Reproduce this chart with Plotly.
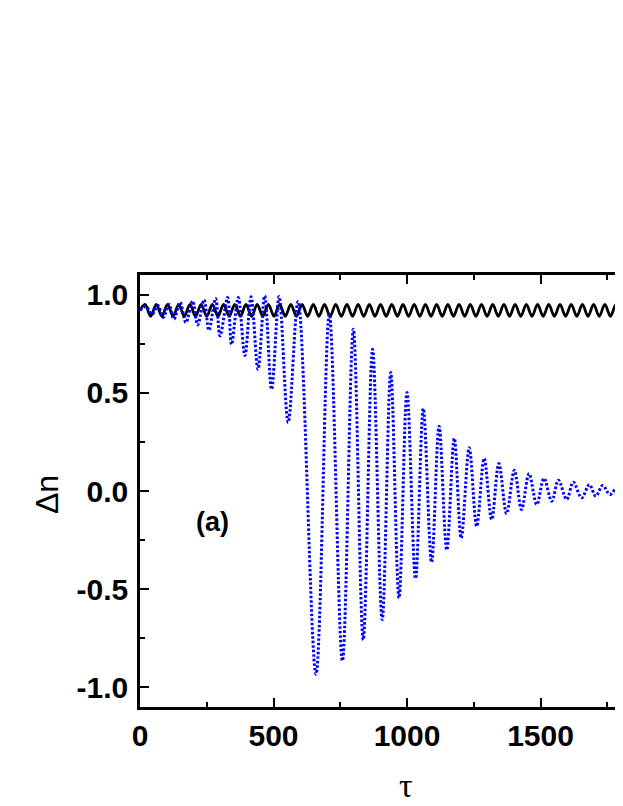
import plotly.graph_objects as go

# ---- data ----
blue_tau = [0, 22, 45, 67, 87, 109, 127, 150, 172, 197, 216, 240, 258, 283, 300,
            328, 343, 368, 393, 416, 442, 467, 493, 521, 555, 592, 659, 709, 758,
            799, 836, 871, 907, 939, 970, 1000, 1032, 1061, 1092, 1120, 1149, 1177,
            1203, 1233, 1261, 1289, 1317, 1344, 1373, 1402, 1429, 1457, 1486, 1513,
            1542, 1567, 1598, 1623, 1654, 1683, 1707, 1733, 1760, 1789, 1809]
blue_dn = [0.92, 0.94, 0.90, 0.945, 0.884, 0.95, 0.875, 0.96, 0.858, 0.967, 0.846,
           0.974, 0.819, 0.98, 0.79, 0.985, 0.747, 0.985, 0.69, 0.989, 0.62, 0.994,
           0.518, 0.99, 0.35, 0.965, -0.933, 0.90, -0.865, 0.824, -0.758, 0.722,
           -0.656, 0.603, -0.545, 0.502, -0.446, 0.42, -0.363, 0.33, -0.30, 0.268,
           -0.24, 0.22, -0.18, 0.166, -0.145, 0.14, -0.115, 0.106, -0.094, 0.088,
           -0.069, 0.064, -0.052, 0.055, -0.043, 0.045, -0.035, 0.032, -0.026,
           0.028, -0.018, 0.021, 0.0]

black_tau = [0, 19, 40, 61, 82, 103, 124, 145, 166, 187, 208, 229, 250, 271, 292,
             313, 334, 355, 376, 397, 418, 439, 460, 481, 502, 523, 544, 565, 586,
             607, 628, 649, 670, 691, 712, 733, 754, 775, 796, 817, 838, 859, 880,
             901, 922, 943, 964, 985, 1006, 1027, 1048, 1069, 1090, 1111, 1132,
             1153, 1174, 1195, 1216, 1237, 1258, 1279, 1300, 1321, 1342, 1363, 1384,
             1405, 1426, 1447, 1468, 1489, 1510, 1531, 1552, 1573, 1594, 1615, 1636,
             1657, 1678, 1699, 1720, 1741, 1762, 1783, 1804, 1825]
black_dn = [0.92,
            0.95, 0.89, 0.95, 0.89, 0.95, 0.89, 0.95, 0.89, 0.95, 0.89,
            0.95, 0.89, 0.95, 0.89, 0.95, 0.89, 0.95, 0.89, 0.95, 0.89,
            0.95, 0.89, 0.95, 0.89, 0.95, 0.89, 0.95, 0.89, 0.95, 0.89,
            0.95, 0.89, 0.95, 0.89, 0.95, 0.89, 0.95, 0.89, 0.95, 0.89,
            0.95, 0.89, 0.95, 0.89, 0.95, 0.89, 0.95, 0.89, 0.95, 0.89,
            0.95, 0.89, 0.95, 0.89, 0.95, 0.89, 0.95, 0.89, 0.95, 0.89,
            0.95, 0.89, 0.95, 0.89, 0.95, 0.89, 0.95, 0.89, 0.95, 0.89,
            0.95, 0.89, 0.95, 0.89, 0.95, 0.89, 0.95, 0.89, 0.95, 0.89,
            0.95, 0.89, 0.95, 0.89, 0.95, 0.89, 0.95]

x_ticks = [0, 500, 1000, 1500]
x_ticklabels = ["0", "500", "1000", "1500"]
y_ticks = [-1.0, -0.5, 0.0, 0.5, 1.0]
y_ticklabels = ["-1.0", "-0.5", "0.0", "0.5", "1.0"]

FONT = "Liberation Sans, Arial, sans-serif"

fig = go.Figure()
fig.add_trace(go.Scatter(x=black_tau, y=black_dn, mode="lines",
                         line=dict(color="#000000", width=2.8, shape="spline", smoothing=1.0),
                         showlegend=False, hoverinfo="skip"))
fig.add_trace(go.Scatter(x=blue_tau, y=blue_dn, mode="lines",
                         line=dict(color="#0000FF", width=3, dash="2.5px,2px", shape="spline", smoothing=1.0),
                         showlegend=False, hoverinfo="skip"))

# page body has an 8px default margin: figure is sized/margined to compensate
FIG_H = 798
fig.update_layout(
    width=615, height=FIG_H,
    margin=dict(l=132, r=0, t=267, b=FIG_H - 699),
    paper_bgcolor="white", plot_bgcolor="white",
    font=dict(family=FONT, color="black"),
)
fig.update_xaxes(
    range=[0, 1809], tickvals=x_ticks, ticktext=x_ticklabels,
    ticks="inside", ticklen=9, tickwidth=2, tickcolor="black",
    showline=True, linewidth=2.5, linecolor="black", mirror="ticks",
    showgrid=False, zeroline=False, automargin=False,
    tickfont=dict(family=FONT, size=30, weight="bold", color="black"),
    minor=dict(dtick=250, tick0=0, ticks="inside", ticklen=5, tickwidth=2, tickcolor="black", showgrid=False),
)
fig.update_yaxes(
    range=[-1.1, 1.1], tickvals=y_ticks, ticktext=y_ticklabels,
    ticks="inside", ticklen=9, tickwidth=2, tickcolor="black",
    showline=True, linewidth=2.5, linecolor="black", mirror=False,
    showgrid=False, zeroline=False, automargin=False,
    ticklabelstandoff=3,
    tickfont=dict(family=FONT, size=30, weight="bold", color="black"),
    minor=dict(dtick=0.25, tick0=0, ticks="inside", ticklen=5, tickwidth=2, tickcolor="black", showgrid=False),
)

fig.add_annotation(x=270, y=-0.16, xref="x", yref="y", text="(a)", showarrow=False,
                   font=dict(family=FONT, size=27, weight="bold", color="black"))
fig.add_annotation(x=(39 - 132) / 483, y=(699 - 487) / 432, xref="paper", yref="paper", text="Δn",
                   showarrow=False, textangle=-90, xanchor="center", yanchor="middle",
                   font=dict(family=FONT, size=32, color="black"))
fig.add_annotation(x=(398 - 132) / 483, y=-(FIG_H - 699) / 432, xref="paper", yref="paper", text="τ",
                   showarrow=False, xanchor="center", yanchor="bottom",
                   font=dict(family="Liberation Serif, Times New Roman, serif", size=34, color="black"))

fig.write_html("out.html")
